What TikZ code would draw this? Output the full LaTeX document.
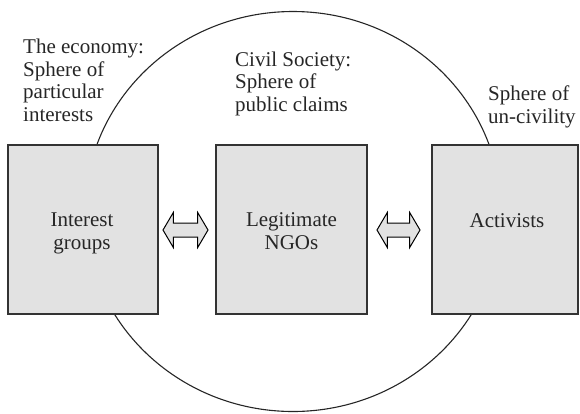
\documentclass[tikz,border=0pt]{standalone}
\usepackage{fontspec}
\setmainfont{Liberation Serif}
\usetikzlibrary{shapes.arrows}
\definecolor{boxgray}{HTML}{E2E2E2}
\definecolor{edgegray}{HTML}{333333}
\begin{document}
\begin{tikzpicture}[x=1pt,y=-1pt,
  box/.style={draw=edgegray, fill=boxgray, line width=1.1pt, inner sep=0pt, minimum height=169pt},
  lbl/.style={font=\fontsize{21}{22.5}\selectfont, text=black!85, inner sep=0pt},
  darrow/.style={shape=double arrow, draw=black, fill=boxgray, line width=1pt,
    inner xsep=0pt, inner ysep=6.5pt, double arrow head extend=10.5pt,
    double arrow tip angle=119}]
\useasboundingbox (0,0) rectangle (580,413);
\draw[line width=1.1pt, black!85] (293,211.5) ellipse [x radius=208, y radius=200];
\node[box, minimum width=150pt] (ig) at (83,229.5) {};
\node[box, minimum width=151pt] (ngo) at (291.5,229.5) {};
\node[box, minimum width=146pt] (act) at (505,229.5) {};
\node[lbl, anchor=base, align=center] (igt) at (82,249) {Interest\\groups};
\node[lbl, anchor=base, align=center] (ngot) at (291.5,249) {Legitimate\\NGOs};
\node[lbl, anchor=base] (actt) at (507,227) {Activists};
\node[darrow, minimum height=45pt] (a1) at (185.5,230) {};
\node[darrow, minimum height=43pt] (a2) at (398.5,230) {};
\node[lbl, anchor=base west, align=left] (eco) at (23,121) {The economy:\\Sphere of\\particular\\interests};
\node[lbl, anchor=base west, align=left] (civ) at (235,111) {Civil Society:\\Sphere of\\public claims};
\node[lbl, anchor=base west, align=left] (unc) at (488,123) {Sphere of\\un-civility};
\end{tikzpicture}
\end{document}
